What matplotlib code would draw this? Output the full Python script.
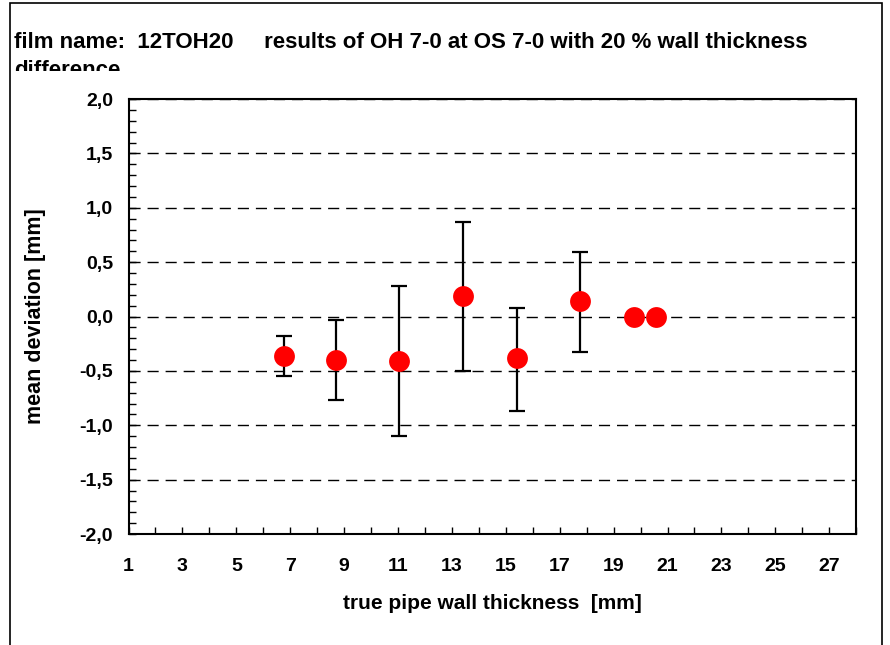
import matplotlib
matplotlib.use("Agg")
import matplotlib.pyplot as plt
from matplotlib.patches import Rectangle
from matplotlib.ticker import MultipleLocator, FuncFormatter
from matplotlib.transforms import Bbox, TransformedBbox

# data
thickness = [6.76, 8.69, 11.04, 13.41, 15.41, 17.77, 19.77, 20.58]
mean_dev = [-0.36, -0.40, -0.41, 0.19, -0.38, 0.14, 0.00, 0.00]
err_low = [0.19, 0.37, 0.69, 0.69, 0.49, 0.47, 0.0, 0.0]
err_high = [0.18, 0.37, 0.69, 0.68, 0.46, 0.45, 0.0, 0.0]

title_line1 = "film name:  12TOH20     results of OH 7-0 at OS 7-0 with 20 % wall thickness"
title_line2 = "difference"
x_label = "true pipe wall thickness  [mm]"
y_label = "mean deviation [mm]"

plt.rcParams['font.family'] = ['Liberation Sans', 'DejaVu Sans']
plt.rcParams['font.weight'] = 'bold'

fig = plt.figure(figsize=(8.9, 6.45), dpi=100)
ax = fig.add_axes([0.1444, 0.172, 0.8176, 0.6745])

# gridlines
ax.yaxis.grid(True, which='major', linestyle=(0, (8, 5)), color='black', linewidth=1)
ax.set_axisbelow(True)

# error bars only where there is a spread
has_err = [lo > 0 or hi > 0 for lo, hi in zip(err_low, err_high)]
bars_x = [x for x, h in zip(thickness, has_err) if h]
bars_y = [y for y, h in zip(mean_dev, has_err) if h]
bars_lo = [lo for lo, h in zip(err_low, has_err) if h]
bars_hi = [hi for hi, h in zip(err_high, has_err) if h]
ax.errorbar(bars_x, bars_y, yerr=[bars_lo, bars_hi], fmt='none', ecolor='black',
            elinewidth=1.6, capsize=6, capthick=1.6, zorder=3)
ax.plot(thickness, mean_dev, 'o', color='red', markersize=15, markeredgewidth=0, zorder=4)

ax.set_xlim(1, 28)
ax.set_ylim(-2, 2)
ax.set_xticks(range(1, 28, 2))
ax.xaxis.set_minor_locator(MultipleLocator(1))
ax.yaxis.set_major_locator(MultipleLocator(0.5))
ax.yaxis.set_minor_locator(MultipleLocator(0.1))
ax.yaxis.set_major_formatter(FuncFormatter(lambda v, p: f"{v:.1f}".replace('.', ',')))

ax.tick_params(axis='x', which='major', direction='in', length=5, width=1, labelsize=14, pad=17)
ax.tick_params(axis='x', which='minor', direction='in', length=5, width=1)
ax.tick_params(axis='y', which='major', direction='in', length=5, width=1, labelsize=14, pad=11)
ax.tick_params(axis='y', which='minor', direction='in', length=5, width=1)
for lab in ax.get_xticklabels() + ax.get_yticklabels():
    lab.set_fontweight('bold')

for s in ax.spines.values():
    s.set_linewidth(1.5)
    s.set_color('black')

ax.set_xlabel(x_label, fontsize=15, fontweight='bold', labelpad=14)
ax.set_ylabel(y_label, fontsize=15.5, fontweight='bold', labelpad=24)

# title, second line partly hidden
fig.text(14 / 890, 1 - 42 / 645, title_line1, fontsize=16, fontweight='bold', va='center', ha='left')
t2 = fig.text(14 / 890, 1 - 71 / 645, title_line2, fontsize=16, fontweight='bold', va='center', ha='left')
t2.set_clip_box(TransformedBbox(Bbox([[0, 1 - 71 / 645], [1, 1]]), fig.transFigure))
t2.set_clip_on(True)

# outer frame
fig.patches.append(Rectangle((10 / 890, -0.1), 872 / 890, 1.1 - 3 / 645, transform=fig.transFigure,
                             fill=False, edgecolor='black', linewidth=1.2))

fig.savefig("out.png", dpi=100)
